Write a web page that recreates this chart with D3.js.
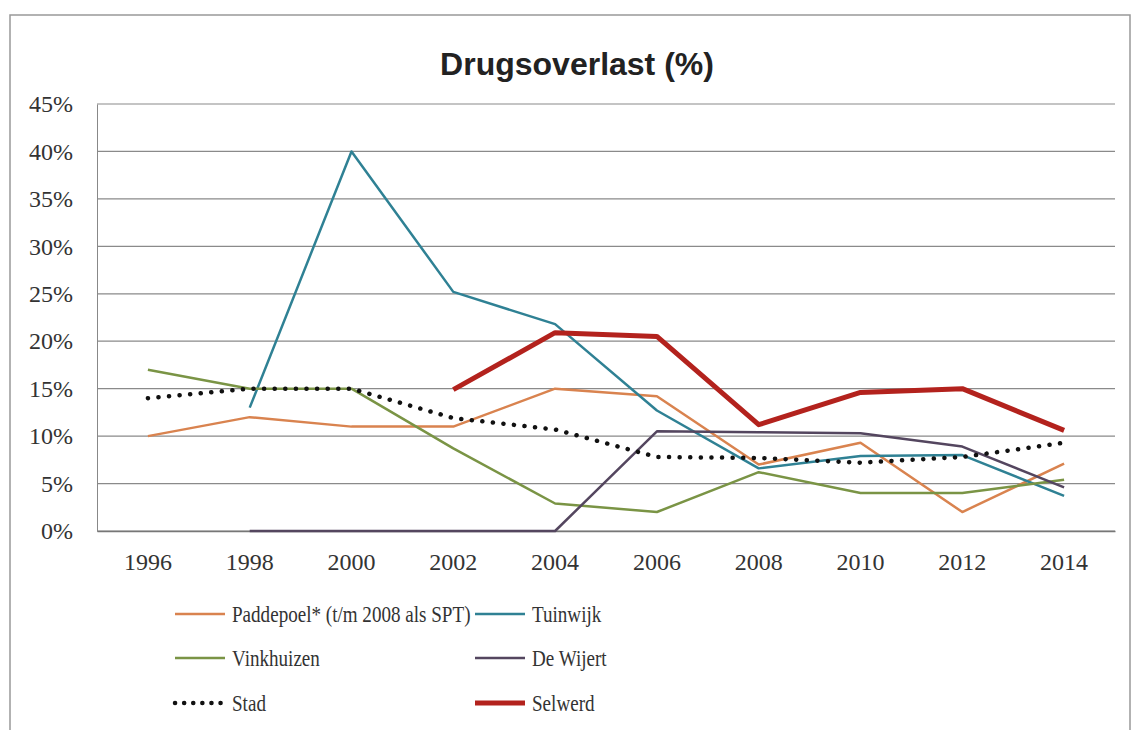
<!DOCTYPE html>
<html>
<head>
<meta charset="utf-8">
<script src="https://cdn.jsdelivr.net/npm/d3@7"></script>
<style>
  body { margin: 0; background: #fff; }
  text { font-family: "Liberation Serif", serif; fill: #333; }
</style>
</head>
<body>
<div id="chart"></div>
<script>
// data (percent)
const years = ["1996", "1998", "2000", "2002", "2004", "2006", "2008", "2010", "2012", "2014"];
const yTicks = [0, 5, 10, 15, 20, 25, 30, 35, 40, 45];

const paddepoel = [10, 12, 11, 11, 15, 14.2, 7, 9.3, 2, 7.1];
const tuinwijk = [null, 13, 40, 25.2, 21.8, 12.7, 6.6, 7.9, 8, 3.7];
const vinkhuizen = [17, 15, 15, 8.7, 2.9, 2, 6.2, 4, 4, 5.4];
const deWijert = [null, 0, 0, 0, 0, 10.5, 10.4, 10.3, 8.9, 4.6];
const stad = [14, 15, 15, 11.9, 10.7, 7.8, 7.7, 7.2, 7.8, 9.3];
const selwerd = [null, null, null, 14.9, 20.9, 20.5, 11.2, 14.6, 15, 10.6];

const series = [
  { name: "Paddepoel* (t/m 2008 als SPT)", values: paddepoel, color: "#d9834f", width: 2.5 },
  { name: "Tuinwijk", values: tuinwijk, color: "#2f8194", width: 2.5 },
  { name: "Vinkhuizen", values: vinkhuizen, color: "#7a9445", width: 2.5 },
  { name: "De Wijert", values: deWijert, color: "#54465f", width: 2.5 },
  { name: "Stad", values: stad, color: "#111", width: 4.5, dotted: true },
  { name: "Selwerd", values: selwerd, color: "#b3221d", width: 5 }
];

const W = 1134, H = 730;
const margin = { top: 104, right: 19, bottom: 199, left: 97 };
const width = W - margin.left - margin.right;
const height = H - margin.top - margin.bottom;

const svg = d3.select("#chart").append("svg")
  .attr("width", W)
  .attr("height", H);

// outer frame
svg.append("rect")
  .attr("x", 10).attr("y", 15)
  .attr("width", 1120).attr("height", 730)
  .attr("fill", "none")
  .attr("stroke", "#999")
  .attr("stroke-width", 1.5);

svg.append("text")
  .attr("x", 577)
  .attr("y", 75)
  .attr("text-anchor", "middle")
  .style("font-family", "'Liberation Sans', sans-serif")
  .style("font-weight", "bold")
  .style("font-size", "32px")
  .style("fill", "#222")
  .text("Drugsoverlast (%)");

const g = svg.append("g")
  .attr("transform", `translate(${margin.left},${margin.top})`);

const x = d3.scaleBand().domain(years).range([0, width]);
const y = d3.scaleLinear().domain([0, 45]).range([height, 0]);

// gridlines
g.append("g")
  .selectAll("line")
  .data(yTicks)
  .join("line")
  .attr("x1", 0)
  .attr("x2", width)
  .attr("y1", d => y(d))
  .attr("y2", d => y(d))
  .attr("stroke", "#8a8a8a")
  .attr("stroke-width", 1.2);

// y axis
const yAxis = g.append("g")
  .call(d3.axisLeft(y).tickValues(yTicks).tickFormat(d => d + "%").tickSize(0).tickPadding(24));
yAxis.select(".domain").attr("stroke", "#888");
yAxis.selectAll("text").style("font-size", "24px").style("fill", "#333");

// x axis
const xAxis = g.append("g")
  .attr("transform", `translate(0,${height})`)
  .call(d3.axisBottom(x).tickSize(0).tickPadding(22));
xAxis.select(".domain").attr("stroke", "#777").attr("stroke-width", 1.5);
xAxis.selectAll("text").style("font-size", "24px").style("fill", "#333");

const line = d3.line()
  .defined(d => d.v !== null)
  .x(d => x(d.year) + x.bandwidth() / 2)
  .y(d => y(d.v));

series.forEach(s => {
  const pts = years.map((yr, i) => ({ year: yr, v: s.values[i] }));
  g.append("path")
    .datum(pts)
    .attr("fill", "none")
    .attr("stroke", s.color)
    .attr("stroke-width", s.width)
    .attr("stroke-linejoin", "round")
    .attr("stroke-linecap", s.dotted ? "round" : "butt")
    .attr("stroke-dasharray", s.dotted ? "0.1 10.5" : null)
    .attr("d", line);
});

// legend
const legendPos = [
  [175, 614], [475, 614],
  [175, 658], [475, 658],
  [175, 703], [475, 703]
];
const legend = svg.append("g");
series.forEach((s, i) => {
  const [lx, ly] = legendPos[i];
  legend.append("line")
    .attr("x1", lx).attr("x2", lx + 50)
    .attr("y1", ly).attr("y2", ly)
    .attr("stroke", s.color)
    .attr("stroke-width", s.width)
    .attr("stroke-linecap", s.dotted ? "round" : "butt")
    .attr("stroke-dasharray", s.dotted ? "0.1 9" : null);
  legend.append("text")
    .attr("transform", `translate(${lx + 57},${ly + 8}) scale(0.83,1)`)
    .style("font-size", "23px")
    .style("fill", "#333")
    .text(s.name);
});
</script>
</body>
</html>
